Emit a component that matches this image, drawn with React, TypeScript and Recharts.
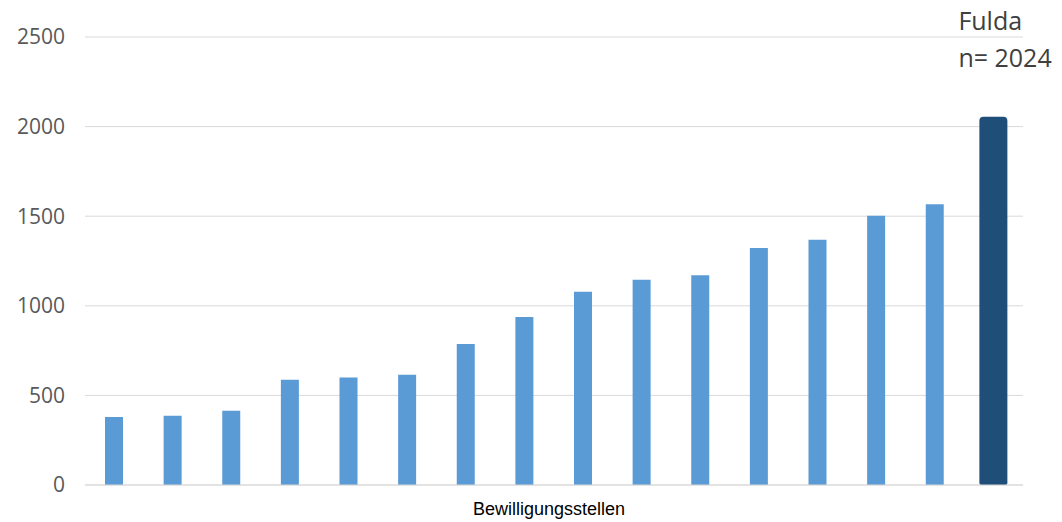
import React from "react";
import {
  BarChart,
  Bar,
  XAxis,
  YAxis,
  CartesianGrid,
  LabelList,
} from "recharts";

// Bewilligungsstellen, sorted, last one = Fulda
const stellen = [
  "Stelle 1", "Stelle 2", "Stelle 3", "Stelle 4",
  "Stelle 5", "Stelle 6", "Stelle 7", "Stelle 8",
  "Stelle 9", "Stelle 10", "Stelle 11", "Stelle 12",
  "Stelle 13", "Stelle 14", "Stelle 15", "Fulda",
];
const werte = [
  380, 387, 415, 588, 600, 615, 787, 937,
  1079, 1146, 1170, 1323, 1369, 1503, 1566, 2055,
];
const highlight = "Fulda";
const highlightLines = ["Fulda", "n= 2024"];
const yTicks = [0, 500, 1000, 1500, 2000, 2500];
const xTitle = "Bewilligungsstellen";

const chartData = stellen.map((name, i) => ({
  name,
  andere: name === highlight ? null : werte[i],
  fulda: name === highlight ? werte[i] : null,
}));

const HighlightLabel = (props: any) => {
  const { x, y, value } = props;
  if (value == null) return null;
  return (
    <g>
      {highlightLines.map((line, i) => (
        <text
          key={line}
          x={x - 21}
          y={y - 87 + i * 37}
          fill="#404040"
          fontSize={25}
          fontFamily="'Open Sans', sans-serif"
        >
          {line}
        </text>
      ))}
    </g>
  );
};

export default function App() {
  // cancel the default body margin so the chart fills the window
  return (
    <div style={{ background: "#fff", margin: "-8px 0 0 -8px" }}>
      <BarChart
        width={1062}
        height={522}
        data={chartData}
        margin={{ top: 37, right: 39, bottom: 5, left: 8 }}
      >
        <CartesianGrid
          vertical={false}
          stroke="#d9d9d9"
          xAxisId={0}
        />
        <XAxis
          xAxisId={0}
          dataKey="name"
          tick={false}
          tickLine={false}
          axisLine={{ stroke: "#d9d9d9" }}
          height={32}
          label={{
            value: xTitle,
            position: "insideBottom",
            offset: 2,
            dx: -5,
            fill: "#000",
            fontSize: 18,
            fontFamily: "'Liberation Sans', Arial, sans-serif",
          }}
        />
        <XAxis xAxisId={1} dataKey="name" hide />
        <YAxis
          width={77}
          domain={[0, 2500]}
          ticks={yTicks}
          tickLine={false}
          axisLine={false}
          tickSize={0}
          tickMargin={20}
          tick={{
            fill: "#595959",
            fontSize: 21,
            fontFamily: "'Open Sans', sans-serif",
          }}
        />
        <Bar
          xAxisId={0}
          dataKey="andere"
          fill="#5b9bd5"
          barSize={18}
          isAnimationActive={false}
        />
        <Bar
          xAxisId={1}
          dataKey="fulda"
          fill="#1f4e79"
          barSize={28}
          radius={[4, 4, 2, 2]}
          isAnimationActive={false}
        >
          <LabelList dataKey="fulda" content={HighlightLabel} />
        </Bar>
      </BarChart>
    </div>
  );
}
